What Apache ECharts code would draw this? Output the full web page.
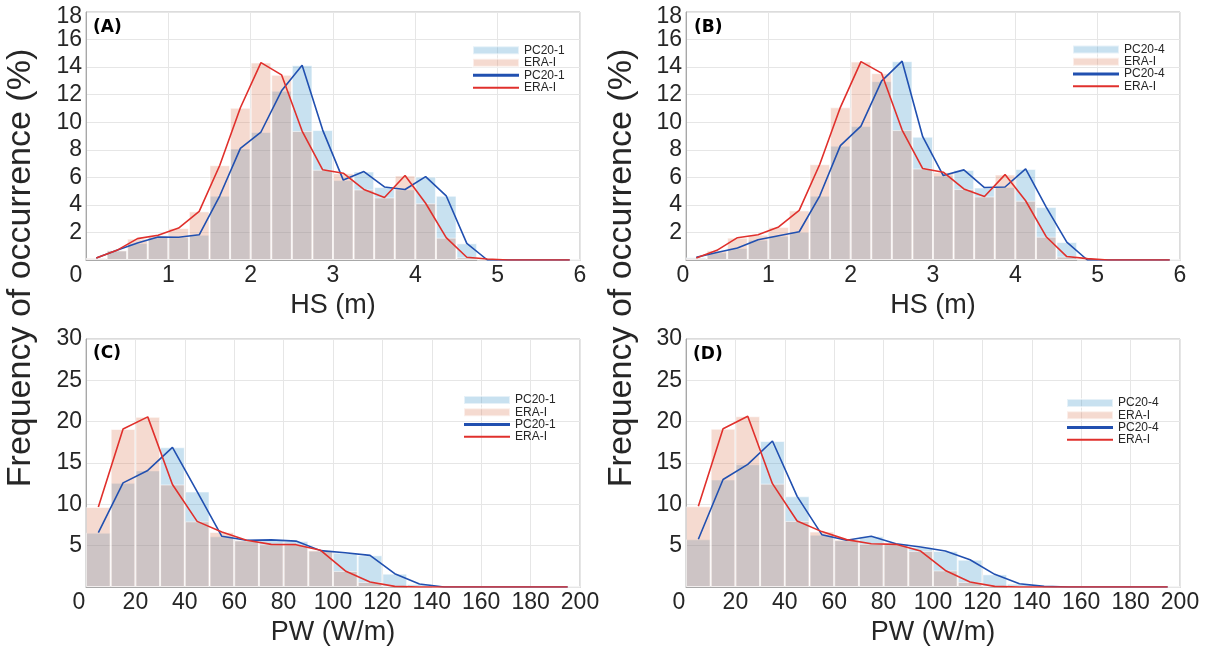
<!DOCTYPE html>
<html><head><meta charset="utf-8">
<script src="https://cdn.jsdelivr.net/npm/echarts@6/dist/echarts.min.js"></script>
<style>html,body{margin:0;padding:0;background:#fff}#c{width:1216px;height:653px}</style>
</head><body><div id="c"></div>
<script>
// ---- data ----
const hsBins = [0.125,0.375,0.625,0.875,1.125,1.375,1.625,1.875,2.125,2.375,2.625,2.875,3.125,3.375,3.625,3.875,4.125,4.375,4.625,4.875,5.125,5.375,5.625,5.875];
const pwBins = [5,15,25,35,45,55,65,75,85,95,105,115,125,135,145,155,165,175,185,195];

const hsA_PC  = [0.15,0.7,1.23,1.67,1.65,1.83,4.66,8.1,9.29,12.28,14.14,9.43,5.8,6.42,5.3,5.12,6.05,4.66,1.21,0,0,0,0,0];
const hsA_ERA = [0.15,0.7,1.55,1.8,2.32,3.53,6.88,11.05,14.33,13.44,9.36,6.55,6.3,5.12,4.54,6.13,4.12,1.62,0.2,0.07,0,0,0,0];
const hsB_PC  = [0.2,0.55,0.87,1.47,1.76,2.05,4.66,8.3,9.72,12.98,14.43,8.95,6.13,6.54,5.26,5.3,6.61,3.84,1.3,0,0,0,0,0];
const hsB_ERA = [0.15,0.7,1.62,1.83,2.4,3.6,6.95,11.08,14.4,13.56,9.43,6.64,6.37,5.16,4.61,6.2,4.3,1.69,0.25,0.1,0,0,0,0];
const pwC_PC  = [6.57,12.6,14.1,16.9,11.55,6.13,5.65,5.7,5.55,4.4,4.15,3.83,1.61,0.36,0,0,0,0,0,0];
const pwC_ERA = [9.68,19.12,20.58,12.4,7.94,6.65,5.65,5.16,5.12,4.44,1.94,0.6,0.08,0,0,0,0,0,0,0];
const pwD_PC  = [5.77,13.0,14.84,17.66,10.97,6.33,5.65,6.13,5.24,4.84,4.35,3.3,1.53,0.4,0.08,0,0,0,0,0];
const pwD_ERA = [9.76,19.15,20.65,12.5,7.98,6.7,5.73,5.24,5.16,4.35,2.0,0.6,0.08,0,0,0,0,0,0,0];

const panelLabels = ['(A)','(B)','(C)','(D)'];
const pcNames = ['PC20-1','PC20-4','PC20-1','PC20-4'];
const eraName = 'ERA-I';
const xNames = ['HS (m)','HS (m)','PW (W/m)','PW (W/m)'];
const yLabel = 'Frequency of occurrence (%)';

// ---- layout / style ----
const panels = [
  {bins: hsBins, pc: hsA_PC, era: hsA_ERA, xmax: 6, xint: 1, ymax: 18, yint: 2, grid: {left:86, top:12, width:494, height:248}, zeroPad: 20, legend: {left:472, top:44, lh:12.5}, label: {left:93, top:19}},
  {bins: hsBins, pc: hsB_PC, era: hsB_ERA, xmax: 6, xint: 1, ymax: 18, yint: 2, grid: {left:686, top:12, width:494, height:248}, zeroPad: 6, legend: {left:1072, top:43.5, lh:12.2}, label: {left:694, top:19}},
  {bins: pwBins, pc: pwC_PC, era: pwC_ERA, xmax: 200, xint: 20, ymax: 30, yint: 5, grid: {left:86, top:339, width:494, height:248}, zeroPad: 14, legend: {left:463, top:394, lh:12.2}, label: {left:93, top:345}},
  {bins: pwBins, pc: pwD_PC, era: pwD_ERA, xmax: 200, xint: 20, ymax: 30, yint: 5, grid: {left:686, top:339, width:494, height:248}, zeroPad: 14, legend: {left:1066, top:397, lh:12.2}, label: {left:693, top:346}}
];

const FONT = 'Liberation Sans, Arial, sans-serif';
const TXT = '#262626';
const BLUE_FILL = 'rgba(51,144,199,0.27)';
const PINK_FILL = 'rgba(218,118,81,0.27)';
const BLUE_LINE = '#2150b0';
const RED_LINE = '#e0302c';

const option = {
  animation: false,
  backgroundColor: '#fff',
  grid: [], xAxis: [], yAxis: [], series: [], legend: [], title: [],
  graphic: [
    {type:'text', x:21, y:268, rotation: Math.PI/2, style:{text: yLabel, x:0, y:0, align:'center', verticalAlign:'middle', textAlign:'center', textVerticalAlign:'middle', fontSize:34, fontFamily: FONT, fill: TXT}},
    {type:'text', x:622, y:268, rotation: Math.PI/2, style:{text: yLabel, x:0, y:0, align:'center', verticalAlign:'middle', textAlign:'center', textVerticalAlign:'middle', fontSize:34, fontFamily: FONT, fill: TXT}}
  ]
};

panels.forEach((p, i) => {
  option.grid.push(Object.assign({show: true, borderColor: '#b8b8b8', borderWidth: 1, containLabel: false}, p.grid));
  option.xAxis.push({
    type: 'value', gridIndex: i, min: 0, max: p.xmax, interval: p.xint,
    name: xNames[i], nameLocation: 'middle', nameGap: 32,
    nameTextStyle: {fontSize: 27, fontFamily: FONT, color: TXT},
    axisLine: {show: true, lineStyle: {color: '#a8a8a8'}},
    axisTick: {show: false},
    splitLine: {show: true, lineStyle: {color: '#e6e6e6'}},
    axisLabel: {
      margin: 4, fontSize: 23, fontFamily: FONT, color: TXT, showMinLabel: true, showMaxLabel: true,
      formatter: v => v === 0 ? '{z|0}' : String(v),
      rich: {z: {padding: [0, p.zeroPad, 0, 0], fontSize: 23, fontFamily: FONT, color: TXT}}
    }
  });
  option.xAxis.push({type: 'category', gridIndex: i, data: p.bins, show: false, boundaryGap: true});
  option.yAxis.push({
    type: 'value', gridIndex: i, min: 0, max: p.ymax, interval: p.yint,
    axisLine: {show: true, lineStyle: {color: '#a8a8a8'}},
    axisTick: {show: false},
    splitLine: {show: true, lineStyle: {color: '#e6e6e6'}},
    axisLabel: {
      margin: 4, fontSize: 23, fontFamily: FONT, color: TXT, showMaxLabel: true, hideOverlap: false,
      formatter: v => v === 0 ? '' : (v === 18 ? '{t|18}' : String(v)),
      rich: {t: {padding: [9, 0, 0, 0], fontSize: 23, fontFamily: FONT, color: TXT}}
    }
  });
  const pcName = pcNames[i];
  option.series.push(
    {name: pcName, type: 'bar', xAxisIndex: 2*i+1, yAxisIndex: i, data: p.pc, barWidth: '100%', barGap: '-100%',
     itemStyle: {color: BLUE_FILL, borderColor: 'rgba(255,255,255,0.55)', borderWidth: 1}, z: 2},
    {name: eraName, type: 'bar', xAxisIndex: 2*i+1, yAxisIndex: i, data: p.era, barWidth: '100%', barGap: '-100%',
     itemStyle: {color: PINK_FILL, borderColor: 'rgba(255,255,255,0.55)', borderWidth: 1}, z: 2},
    {name: pcName + ' ', type: 'line', xAxisIndex: 2*i+1, yAxisIndex: i, data: p.pc, symbol: 'none',
     lineStyle: {color: BLUE_LINE, width: 1.6}, itemStyle: {color: BLUE_LINE}, z: 3},
    {name: eraName + ' ', type: 'line', xAxisIndex: 2*i+1, yAxisIndex: i, data: p.era, symbol: 'none',
     lineStyle: {color: RED_LINE, width: 1.6}, itemStyle: {color: RED_LINE}, z: 4}
  );
  option.legend.push({
    orient: 'vertical', left: p.legend.left, top: p.legend.top, padding: 0, itemGap: 0,
    itemWidth: 46, itemHeight: 8, selectedMode: false, symbolKeepAspect: true,
    textStyle: {fontSize: 12, fontFamily: FONT, color: TXT, lineHeight: p.legend.lh, padding: [0, 0, 0, 0]},
    formatter: n => n.trim(),
    data: [
      {name: pcName, icon: 'rect'},
      {name: eraName, icon: 'rect'},
      {name: pcName + ' ', icon: 'path://M0,0L46,0L46,3L0,3Z', itemStyle: {color: BLUE_LINE, borderWidth: 0}},
      {name: eraName + ' ', icon: 'path://M0,0L46,0L46,2L0,2Z', itemStyle: {color: RED_LINE, borderWidth: 0}}
    ]
  });
  option.title.push({
    text: panelLabels[i], left: p.label.left, top: p.label.top, padding: 0,
    textStyle: {fontSize: 17, fontWeight: 'bold', fontFamily: 'DejaVu Sans', color: '#000'}
  });
});

const chart = echarts.init(document.getElementById('c'), null, {renderer: 'canvas'});
chart.setOption(option);
</script>
</body></html>
